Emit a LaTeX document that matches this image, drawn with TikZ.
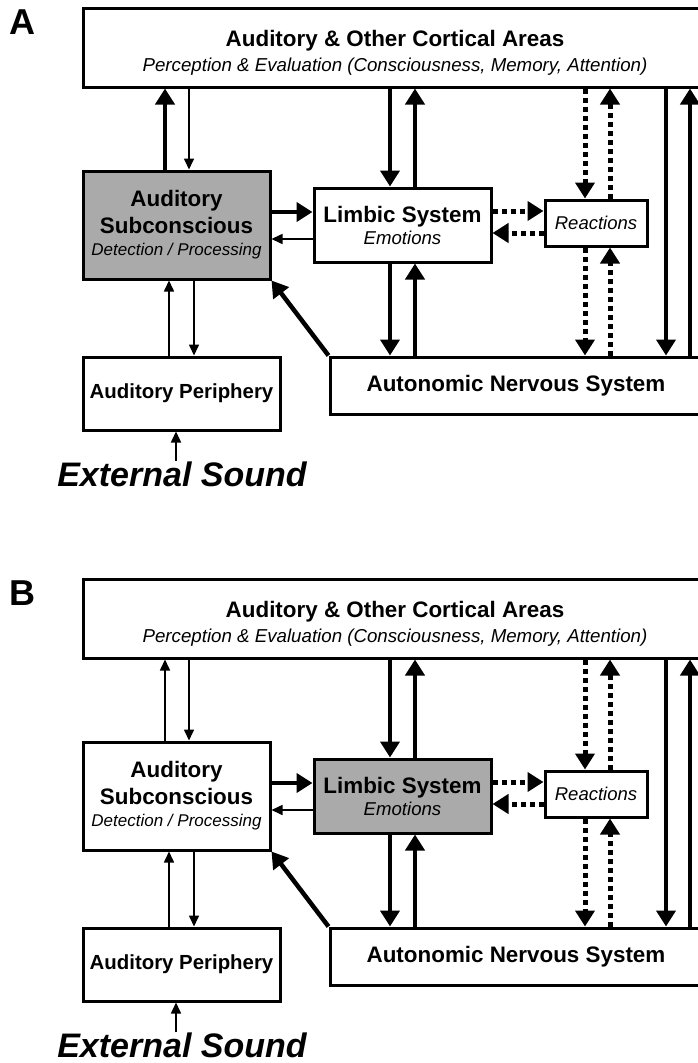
\documentclass[tikz,border=0pt]{standalone}
\usepackage{fontspec}
\setmainfont{Liberation Sans}
\usetikzlibrary{arrows.meta}
\definecolor{shade}{RGB}{170,170,170}

\begin{document}
\begin{tikzpicture}[x=1pt,y=-1pt,
    box/.style={draw,line width=3pt,inner sep=0pt,align=center,fill=white},
    bold/.style={font=\fontsize{22.4}{27}\selectfont\bfseries},
    thickline/.style={line width=4.5pt,-{Triangle[length=16pt,width=19pt]}},
    thinline/.style={line width=1.6pt,-{Triangle[length=11pt,width=10pt]}},
    dotline/.style={line width=5pt,dash pattern=on 5pt off 4pt,-{Triangle[length=16pt,width=19pt]}}]
        \useasboundingbox[fill=white] (0,0) rectangle (697,1063);

        % the two panels only differ in the grey box and one arrow
        \foreach \tag/\dy/\subfill/\limfill/\upw in {A/0/shade/white/thickline,B/571/white/shade/thinline} {
        \begin{scope}[yshift=-\dy pt]
            \node[font=\fontsize{36}{40}\selectfont\bfseries] (tag) at (22,22) {\tag};

            % boxes
            \node[box,font=\fontsize{22.4}{25}\selectfont,minimum width=624pt,minimum height=79pt] (cortex) at (395,47.5)
                {\rule{0pt}{27pt}\bfseries Auditory \& Other Cortical Areas\\{\itshape\fontsize{18.7}{22}\selectfont Perception \& Evaluation (Consciousness, Memory, Attention)}};
            \node[box,bold,fill=\subfill,minimum width=187pt,minimum height=108pt] (subcon) at (176.5,225)
                {Auditory\\Subconscious\\[-5pt]{\mdseries\itshape\fontsize{17}{20}\selectfont Detection / Processing}};
            \node[box,font=\fontsize{22.4}{22}\selectfont,fill=\limfill,minimum width=177pt,minimum height=74pt] (limbic) at (402.5,225)
                {\bfseries Limbic System\\{\itshape\fontsize{18.6}{22}\selectfont Emotions}};
            \node[box,font=\fontsize{18.5}{22}\selectfont\itshape,minimum width=102pt,minimum height=46pt] (react) at (596,223) {Reactions};
            \node[box,bold,minimum width=372pt,minimum height=57pt] (ans) at (516,385.5) {Autonomic Nervous System};
            \node[box,font=\fontsize{20.4}{24}\selectfont\bfseries,minimum width=197pt,minimum height=73pt] (periph) at (181.5,393.5) {Auditory Periphery};
            \node[inner sep=0pt,font=\fontsize{34}{38}\selectfont\bfseries\itshape] (sound) at (182,474) {External Sound};

            % cortex and subconscious
            \draw[\upw] ([xshift=-11.5pt]subcon.north) -- ([xshift=-11.5pt]subcon.north |- cortex.south);
            \draw[thinline] ([xshift=12.5pt]subcon.north |- cortex.south) -- ([xshift=12.5pt]subcon.north);

            % subconscious and limbic system
            \draw[thickline] ([yshift=13pt]subcon.east) -- ([yshift=13pt]subcon.east -| limbic.west);
            \draw[thinline] ([yshift=-14pt]subcon.east -| limbic.west) -- ([yshift=-14pt]subcon.east);

            % limbic system and reactions
            \draw[dotline] ([yshift=14pt]limbic.east) -- ([yshift=14pt]limbic.east -| react.west);
            \draw[dotline] ([yshift=-8pt]limbic.east -| react.west) -- ([yshift=-8pt]limbic.east);

            % limbic system up and down
            \draw[thickline] ([xshift=-12.5pt]limbic.north |- cortex.south) -- ([xshift=-12.5pt]limbic.north);
            \draw[thickline] ([xshift=12.5pt]limbic.north) -- ([xshift=12.5pt]limbic.north |- cortex.south);
            \draw[thickline] ([xshift=-12.5pt]limbic.south) -- ([xshift=-12.5pt]limbic.south |- ans.north);
            \draw[thickline] ([xshift=12.5pt]limbic.south |- ans.north) -- ([xshift=12.5pt]limbic.south);

            % reactions up and down
            \draw[dotline] ([xshift=-11pt]react.north |- cortex.south) -- ([xshift=-11pt]react.north);
            \draw[dotline] ([xshift=14pt]react.north) -- ([xshift=14pt]react.north |- cortex.south);
            \draw[dotline] ([xshift=-11pt]react.south) -- ([xshift=-11pt]react.south |- ans.north);
            \draw[dotline] ([xshift=14pt]react.south |- ans.north) -- ([xshift=14pt]react.south);

            % cortex and autonomic system
            \draw[thickline] ([xshift=150pt]ans.north |- cortex.south) -- ([xshift=150pt]ans.north);
            \draw[thickline] ([xshift=174pt]ans.north) -- ([xshift=174pt]ans.north |- cortex.south);
            \draw[thickline] (ans.north west) -- (subcon.south east);

            % periphery
            \draw[thinline] ([xshift=-7.5pt]subcon.south |- periph.north) -- ([xshift=-7.5pt]subcon.south);
            \draw[thinline] ([xshift=17.5pt]subcon.south) -- ([xshift=17.5pt]subcon.south |- periph.north);
            \draw[thinline] ([xshift=-5.5pt]periph.south |- sound.north) -- ([xshift=-5.5pt]periph.south);
        \end{scope}
        }
\end{tikzpicture}
\end{document}
